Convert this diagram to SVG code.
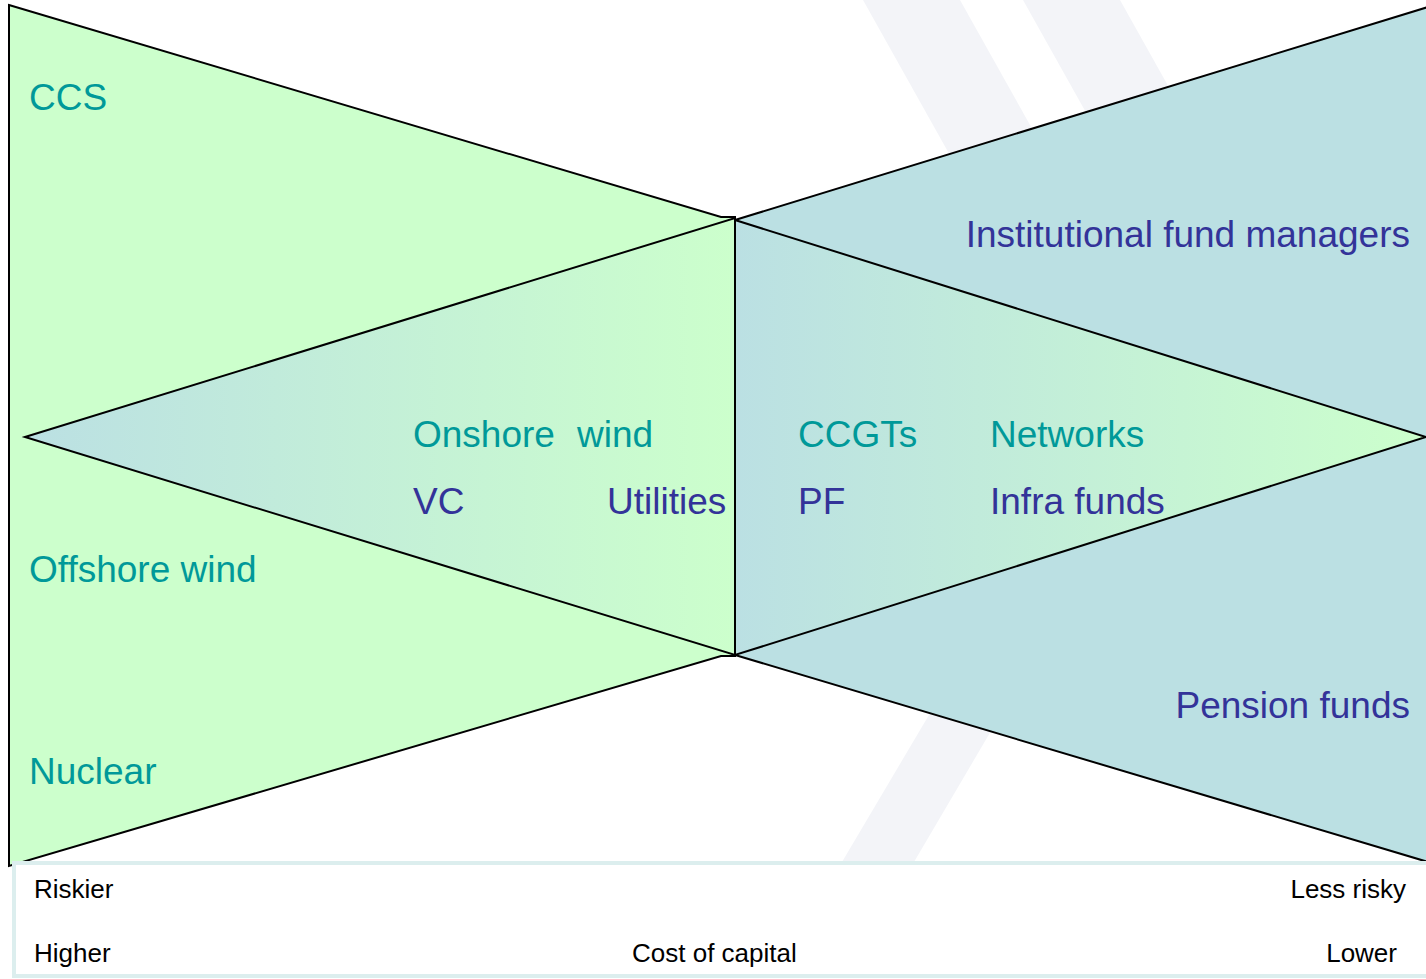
<svg xmlns="http://www.w3.org/2000/svg" width="1426" height="979" viewBox="0 0 1426 979">
<style>
.sh{stroke:#000;stroke-width:2;stroke-linejoin:miter}
.t{font-family:"Liberation Sans",Arial,sans-serif;font-size:37px}
.g{fill:#009999}
.b{fill:#333399}
.s{font-family:"Liberation Sans",Arial,sans-serif;font-size:26px;fill:#000}
.stripe{fill:#f3f4f8}
</style>
<defs>
<linearGradient id="grad" x1="0" y1="0" x2="1" y2="0">
<stop offset="0" stop-color="#bbe0e3"/>
<stop offset="1" stop-color="#ccffcc"/>
</linearGradient>
</defs>
<rect x="0" y="0" width="1426" height="979" fill="#fff"/>
<g id="watermark">
<polygon class="stripe" points="863,0 960,0 1128,300 1031,300"/>
<polygon class="stripe" points="1023,0 1120,0 1288,300 1191,300"/>
<polygon class="stripe" points="997,600 1068,600 914,862 842,862"/>
</g>
<g id="right-outer">
<polygon class="sh" fill="#bbe0e3" points="735,220 1428,7 1428,862 735,655"/>
</g>
<g id="left-outer">
<polygon class="sh" fill="#ccffcc" points="9,5 721,217 735,217 735,656 721,656 9,866"/>
</g>
<g id="left-inner">
<polygon class="sh" fill="url(#grad)" points="25,437 735,218 735,655"/>
</g>
<g id="right-inner">
<polygon class="sh" fill="url(#grad)" points="735,220 1426,437 735,655"/>
</g>
<g id="connectors"></g>
<g id="axis-band">
<rect x="14" y="863" width="1416" height="113" fill="#fff" stroke="#dceeee" stroke-width="4"/>
<text class="s" x="34" y="898">Riskier</text>
<text class="s" x="1406" y="898" text-anchor="end">Less risky</text>
<text class="s" x="34" y="962">Higher</text>
<text class="s" x="632" y="962">Cost of capital</text>
<text class="s" x="1397" y="962" text-anchor="end">Lower</text>
</g>
<g id="labels">
<text class="t g" x="29" y="110">CCS</text>
<text class="t g" x="29" y="582">Offshore wind</text>
<text class="t g" x="29" y="784">Nuclear</text>
<text class="t g" x="413" y="447">Onshore</text>
<text class="t g" x="577" y="447">wind</text>
<text class="t b" x="413" y="514">VC</text>
<text class="t b" x="607" y="514">Utilities</text>
<text class="t g" x="798" y="447">CCGTs</text>
<text class="t g" x="990" y="447">Networks</text>
<text class="t b" x="798" y="514">PF</text>
<text class="t b" x="990" y="514">Infra funds</text>
<text class="t b" x="1410" y="247" text-anchor="end">Institutional fund managers</text>
<text class="t b" x="1410" y="718" text-anchor="end">Pension funds</text>
</g>
</svg>
